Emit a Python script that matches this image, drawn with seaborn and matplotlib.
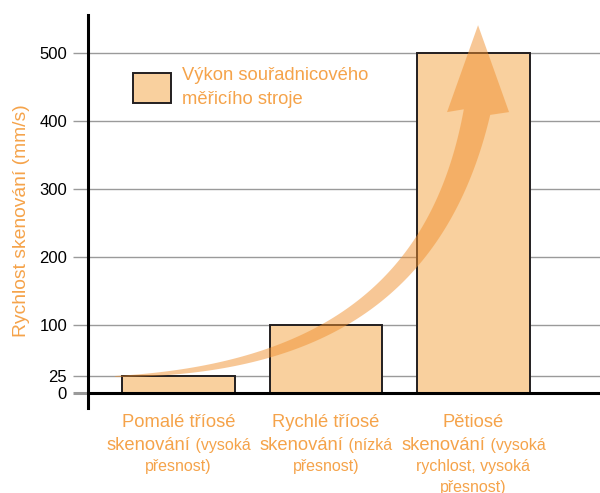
import numpy as np
import matplotlib
matplotlib.use("Agg")
import matplotlib.pyplot as plt
import matplotlib.transforms as mtransforms
from matplotlib.patches import Polygon
import seaborn as sns

# ---------------- data ----------------
categories = [
    "Pomalé tříosé skenování (vysoká přesnost)",
    "Rychlé tříosé skenování (nízká přesnost)",
    "Pětiosé skenování (vysoká rychlost, vysoká přesnost)",
]
speeds = [25, 100, 500]
y_ticks = [0, 25, 100, 200, 300, 400, 500]
label_line1 = ["Pomalé tříosé", "Rychlé tříosé", "Pětiosé"]
label_word = ["skenování", "skenování", "skenování"]
label_rest = ["(vysoká", "(nízká", "(vysoká"]
label_extra = [["přesnost)"], ["přesnost)"], ["rychlost, vysoká", "přesnost)"]]
legend_label = "Výkon souřadnicového\nměřicího stroje"
y_label = "Rychlost skenování (mm/s)"

# decorative growth arrow (data coordinates: bar index, mm/s)
arrow_ctrl_x = [-0.43, 0.96, 1.77, 2.024]
arrow_ctrl_y = [23.6, 32.4, 150.4, 413.0]
arrow_tip = (2.031, 541.0)

# ---------------- style ----------------
ORANGE = "#F5A34A"
BAR = "#F9D09E"
EDGE = "#231F20"
GRID = "#9A9A9A"
ARROW = "#F0902F"
BIG = 13.2
SMALL = 11.5

plt.rcParams["font.family"] = ["Liberation Sans", "DejaVu Sans"]

fig = plt.figure(figsize=(6, 4.93), dpi=100)
ax = fig.add_axes([88 / 600, 85 / 493, 512 / 600, 393 / 493])

sns.barplot(x=categories, y=speeds, ax=ax, color=BAR, saturation=1,
            width=0.766, edgecolor=EDGE, linewidth=1.4, label=legend_label,
            zorder=2)

ax.set_xlim(-0.614, 2.858)
ax.set_ylim(-22.8, 556)
ax.set_yticks(y_ticks)
ax.set_yticklabels([str(t) for t in y_ticks], fontsize=12, color="black")
ax.tick_params(axis="y", length=10.8, width=1, color=GRID, pad=4.3)
ax.tick_params(axis="x", length=0, labelbottom=False)
ax.set_xlabel("")
ax.yaxis.grid(True, color=GRID, lw=1)
ax.set_axisbelow(True)
for s in ["top", "right", "bottom"]:
    ax.spines[s].set_visible(False)
ax.spines["left"].set_linewidth(2.2)
ax.spines["left"].set_color("black")
ax.spines["left"].set_zorder(5)

ax.axhline(0, color="black", lw=2.2, zorder=5)
zt = ax.yaxis.get_major_ticks()[0]
zt.tick1line.set_color("black")
zt.tick1line.set_markeredgewidth(2.2)
zt.gridline.set_visible(False)

ax.set_ylabel(y_label, color=ORANGE, fontsize=13.9)
ax.yaxis.set_label_coords(-0.114, 0.478)

leg = ax.legend(loc="center left", bbox_to_anchor=(0.0879, 0.8155),
                frameon=False, fontsize=BIG, labelcolor=ORANGE,
                handlelength=2.07, handleheight=2.12, handletextpad=0.6,
                borderpad=0, borderaxespad=0)
for t in leg.get_texts():
    t.set_linespacing(1.55)

# ---------------- arrow ----------------
P = ax.transData.transform(np.column_stack([arrow_ctrl_x, arrow_ctrl_y]))
t = np.linspace(0, 1, 300)[:, None]
curve = ((1 - t) ** 3) * P[0] + 3 * ((1 - t) ** 2) * t * P[1] \
    + 3 * (1 - t) * t ** 2 * P[2] + t ** 3 * P[3]
d = np.gradient(curve, axis=0)
d /= np.linalg.norm(d, axis=1)[:, None]
n = np.column_stack([-d[:, 1], d[:, 0]])
seg = np.r_[0, np.cumsum(np.linalg.norm(np.diff(curve, axis=0), axis=1))]
w = 1.0 + 26.0 * seg / seg[-1]
left = curve + n * (w / 2)[:, None]
right = curve - n * (w / 2)[:, None]
tip = ax.transData.transform(arrow_tip)
base_y = curve[-1, 1]
head = np.array([[tip[0] - 31, base_y], tip, [tip[0] + 31, base_y]])
poly_disp = np.vstack([left, head, right[::-1]])
poly_data = ax.transData.inverted().transform(poly_disp)
ax.add_patch(Polygon(poly_data, closed=True, facecolor=ARROW, alpha=0.5,
                     edgecolor="none", zorder=4))

# ---------------- category labels ----------------
blend = mtransforms.blended_transform_factory(ax.transData, ax.transAxes)
y1, y2, y3, y4 = -0.0483, -0.1069, -0.1603, -0.2137
renderer = fig.canvas.get_renderer()
for i in range(len(categories)):
    ax.text(i, y1, label_line1[i], transform=blend, ha="center",
            va="baseline", fontsize=BIG, color=ORANGE, clip_on=False)
    tA = ax.text(i, y2, label_word[i], transform=blend, ha="left",
                 va="baseline", fontsize=BIG, color=ORANGE, clip_on=False)
    tB = ax.text(i, y2, " " + label_rest[i], transform=blend, ha="left",
                 va="baseline", fontsize=SMALL, color=ORANGE, clip_on=False)
    wA = tA.get_window_extent(renderer).width
    wB = tB.get_window_extent(renderer).width
    dx = -(wA + wB) / 2
    tA.set_transform(mtransforms.offset_copy(blend, fig=fig, x=dx, y=0, units="dots"))
    tB.set_transform(mtransforms.offset_copy(blend, fig=fig, x=dx + wA, y=0, units="dots"))
    for j, line in enumerate(label_extra[i]):
        ax.text(i, [y3, y4][j], line, transform=blend, ha="center",
                va="baseline", fontsize=SMALL, color=ORANGE, clip_on=False)

fig.savefig("out.png", dpi=100)
